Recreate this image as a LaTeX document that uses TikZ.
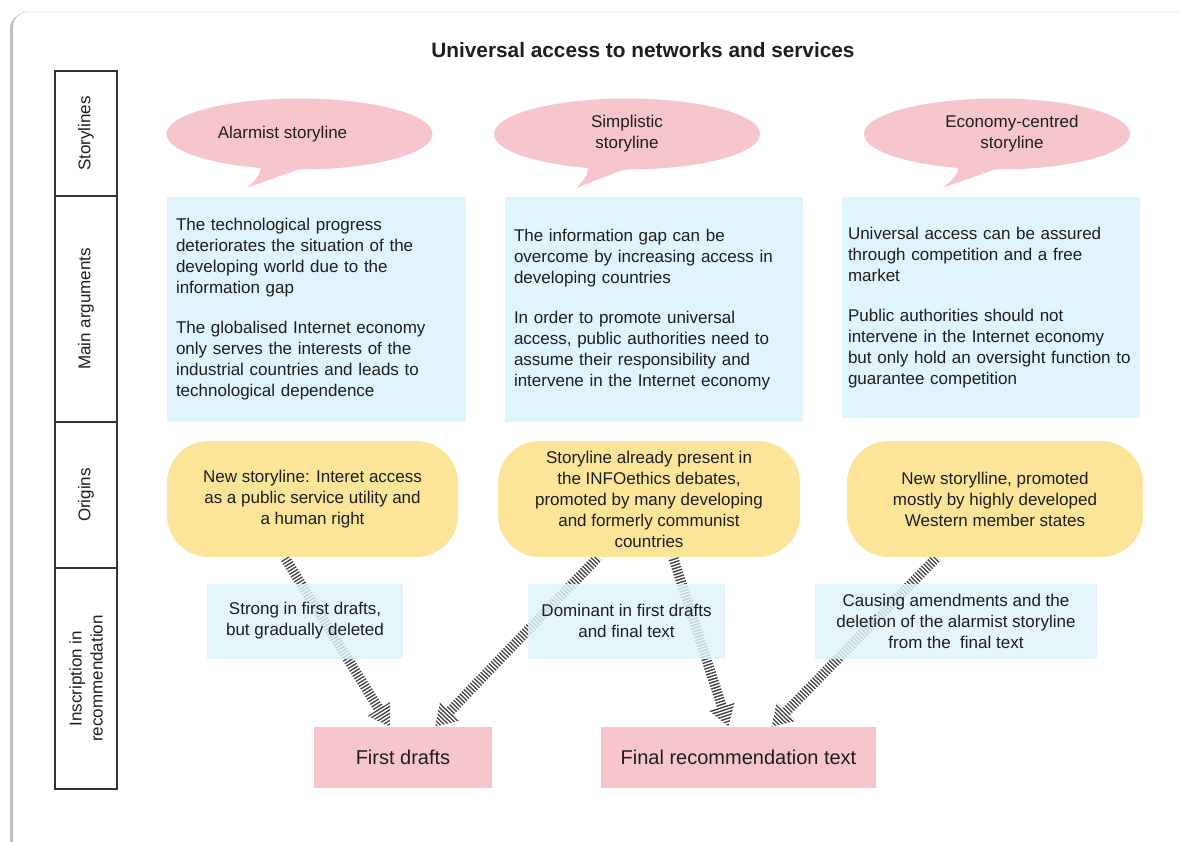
\documentclass[tikz,border=0pt]{standalone}
\usepackage{fontspec}
\setmainfont{Liberation Sans}
\usetikzlibrary{shapes.geometric,arrows.meta,positioning}

\definecolor{bubcol}{RGB}{247,198,205}
\definecolor{argcol}{RGB}{223,244,252}
\definecolor{origcol}{RGB}{252,229,152}
\definecolor{textcol}{RGB}{30,30,30}

\pgfdeclarelayer{frame}
\pgfdeclarelayer{arrow}
\pgfsetlayers{frame,arrow,main}

\tikzset{
    every node/.style={text=textcol, font=\fontsize{17}{21}\selectfont},
    rowlab/.style={draw=black!80, line width=1.2pt, rotate=90, minimum height=62pt, inner sep=0pt, align=center},
    bubble/.style={ellipse, fill=bubcol, minimum width=266pt, minimum height=71pt, inner sep=0pt, align=center},
    argbox/.style={fill=argcol, minimum height=225pt, inner xsep=9pt, align=left},
    origbox/.style={fill=origcol, rounded corners=42pt, minimum height=116pt, align=center},
    notebox/.style={fill=argcol, fill opacity=0.82, text opacity=1, minimum height=75pt, align=center},
    targetbox/.style={fill=bubcol, minimum height=61pt, font=\fontsize{20}{24}\selectfont}
}

% striped fat arrow
\newcommand{\stripearrow}[2]{%
    \draw[black!75, line width=10pt, -{Triangle[width=25pt,length=21pt]}] #1 -- #2;
    \draw[white, line width=28pt, dash pattern=on 1.4pt off 1.6pt] #1 -- #2;
}

\begin{document}
\begin{tikzpicture}[x=1pt,y=1pt]

    \useasboundingbox (0,0) rectangle (1181,-841);

    % frame
    \begin{pgfonlayer}{frame}
    \fill[black!25, rounded corners=14pt] (10,-14) rectangle (1215,-880);
    \draw[black!30, fill=white, rounded corners=14pt] (13,-12) rectangle (1215,-880);
    \end{pgfonlayer}

    \node[font=\bfseries\fontsize{20.8}{25}\selectfont] (title) at (643,-50) {Universal access to networks and services};

    % rows
    \node[rowlab, minimum width=125pt] (r1) at (86,-133.5) {Storylines};
    \node[rowlab, minimum width=226pt] (r2) at (86,-309) {Main arguments};
    \node[rowlab, minimum width=146pt] (r3) at (86,-495) {Origins};
    \node[rowlab, minimum width=221pt] (r4) at (86,-678.5) {Inscription in\\recommendation};

    % storylines
    \node[bubble] (b1) at (299.5,-134) {\hspace*{-34pt}Alarmist storyline};
    \node[bubble] (b2) at (627,-134) {Simplistic\\storyline};
    \node[bubble] (b3) at (997,-134) {\hspace*{30pt}Economy-centred\\\hspace*{30pt}storyline};
    \foreach \b/\dx in {b1/-52, b2/-50, b3/-54}
        \fill[bubcol] ([xshift=-38pt,yshift=6pt]\b.south)
            .. controls ([xshift=-40pt,yshift=-6pt]\b.south) .. ([xshift=\dx pt,yshift=-18pt]\b.south)
            .. controls ([xshift=-20pt,yshift=-6pt]\b.south) .. ([xshift=12pt,yshift=5pt]\b.south) -- cycle;

    % main arguments
    \node[argbox, text width=281pt] (m1) at (316.5,-309.5) {The technological progress\\deteriorates the situation of the\\developing world due to the\\information gap\\[19pt]The globalised Internet economy\\only serves the interests of the\\industrial countries and leads to\\technological dependence};
    \node[argbox, text width=280pt] (m2) at (654,-309.5) {The information gap can be\\overcome by increasing access in\\developing countries\\[19pt]In order to promote universal\\access, public authorities need to\\assume their responsibility and\\intervene in the Internet economy};
    \node[argbox, text width=286pt, inner xsep=6pt, minimum height=221pt] (m3) at (991,-307.5) {Universal access can be assured\\through competition and a free\\market\\[19pt]Public authorities should not\\intervene in the Internet economy\\but only hold an oversight function to\\guarantee competition};

    % origins
    \node[origbox, minimum width=291pt] (o1) at (312.5,-499) {New storyline: Interet access\\as a public service utility and\\a human right};
    \node[origbox, minimum width=302pt] (o2) at (649,-499) {Storyline already present in\\the INFOethics debates,\\promoted by many developing\\and formerly communist\\countries};
    \node[origbox, minimum width=296pt] (o3) at (995,-499) {New storylline, promoted\\mostly by highly developed\\Western member states};

    % inscription
    \node[notebox, minimum width=196pt] (s1) at (305,-621) {Strong in first drafts,\\but gradually deleted};
    \node[notebox, minimum width=197pt] (s2) at (626.5,-621) {Dominant in first drafts\\and final text};
    \node[notebox, minimum width=282pt] (s3) at (956,-621) {Causing amendments and the\\deletion of the alarmist storyline\\from the \ final text};

    \node[targetbox, minimum width=178pt] (fd) at (403,-757.5) {First drafts};
    \node[targetbox, minimum width=275pt] (fr) at (738.5,-757.5) {Final recommendation text};

    % arrows
    \begin{pgfonlayer}{arrow}
    \stripearrow{([xshift=-28pt]o1.south)}{([xshift=-13pt]fd.north)}
    \stripearrow{([xshift=-51pt]o2.south)}{([xshift=32pt]fd.north)}
    \stripearrow{([xshift=24pt]o2.south)}{([xshift=-10pt]fr.north)}
    \stripearrow{([xshift=-58pt]o3.south)}{([xshift=33pt]fr.north)}
    \end{pgfonlayer}

\end{tikzpicture}
\end{document}
